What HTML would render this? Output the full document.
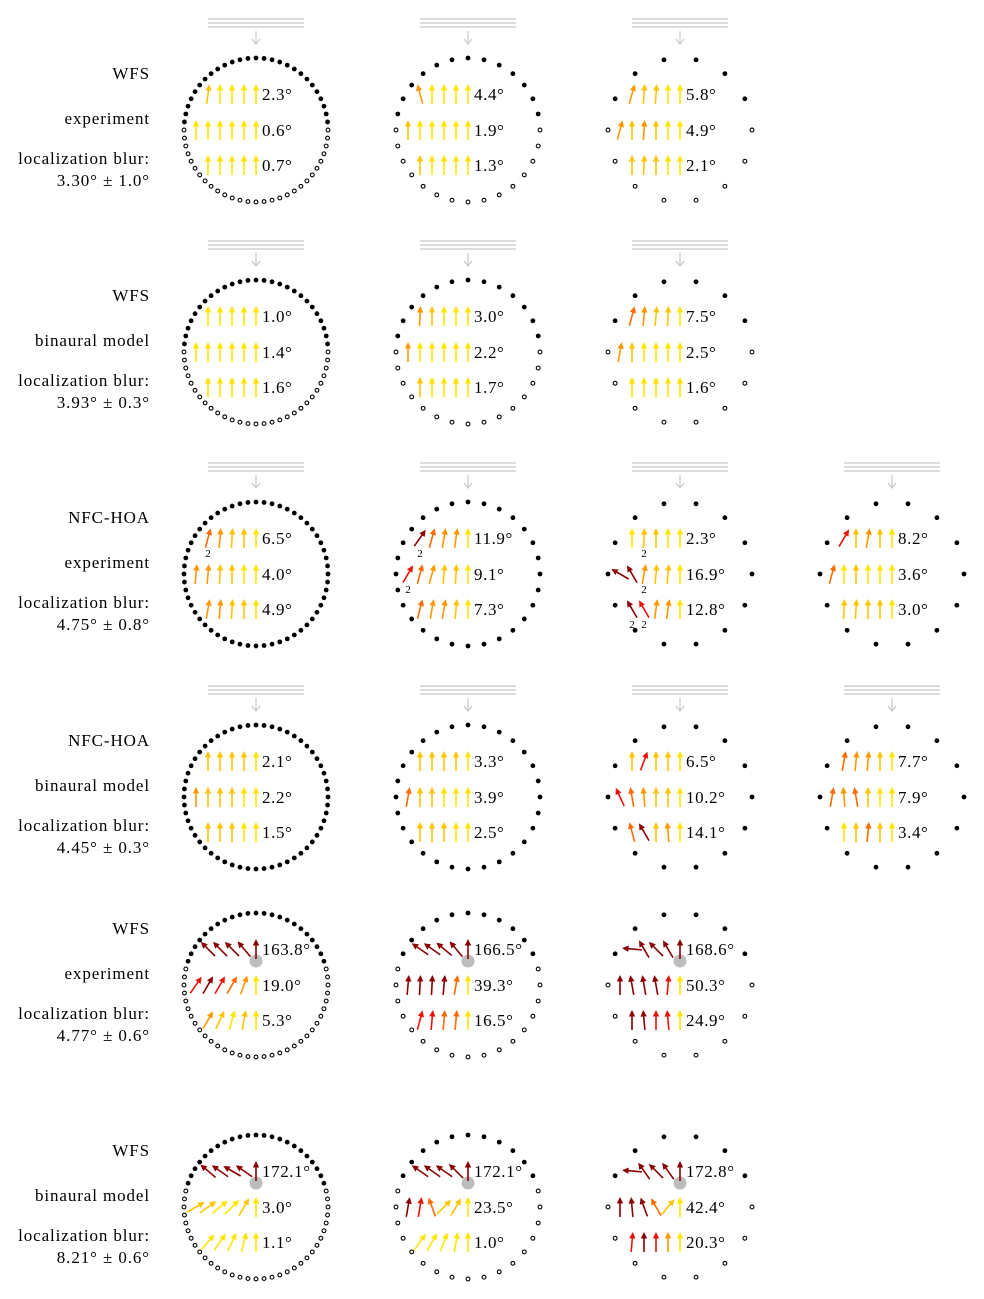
<!DOCTYPE html>
<html><head><meta charset="utf-8"><style>
html,body{margin:0;padding:0;background:#fff;}
svg{display:block;font-family:"Liberation Serif",serif;}
</style></head><body>
<svg id="fig" width="984" height="1299" viewBox="0 0 984 1299" xmlns="http://www.w3.org/2000/svg"></svg>
<script>
// ---- data ----
const rowCenters = [130, 352, 574, 797, 985, 1207];
const colCenters = [256, 468, 680, 892];
const rowMethod = ["WFS","WFS","NFC-HOA","NFC-HOA","WFS","WFS"];
const rowKind = ["experiment","binaural model","experiment","binaural model","experiment","binaural model"];
const rowBlur = ["3.30° ± 1.0°","3.93° ± 0.3°","4.75° ± 0.8°","4.45° ± 0.3°","4.77° ± 0.6°","8.21° ± 0.6°"];
const rowPointSource = [false,false,false,false,true,true];
const rowCols = [3,3,4,4,3,3];
const speakerCounts = [56, 28, 14, 14];
const speakerOffset = [0, 0, 0.5, 0.5];
const colors = ["#ffe600","#ffc400","#ff9800","#ff6a00","#e8140a","#8b0000"];
const errValues = [
 [["2.3°","0.6°","0.7°"],["4.4°","1.9°","1.3°"],["5.8°","4.9°","2.1°"]],
 [["1.0°","1.4°","1.6°"],["3.0°","2.2°","1.7°"],["7.5°","2.5°","1.6°"]],
 [["6.5°","4.0°","4.9°"],["11.9°","9.1°","7.3°"],["2.3°","16.9°","12.8°"],["8.2°","3.6°","3.0°"]],
 [["2.1°","2.2°","1.5°"],["3.3°","3.9°","2.5°"],["6.5°","10.2°","14.1°"],["7.7°","7.9°","3.4°"]],
 [["163.8°","19.0°","5.3°"],["166.5°","39.3°","16.5°"],["168.6°","50.3°","24.9°"]],
 [["172.1°","3.0°","1.1°"],["172.1°","23.5°","1.0°"],["172.8°","42.4°","20.3°"]]
];
const arrowData = [
 [["8:1 0:0 0:0 0:0 0:0","0:0 0:0 0:0 0:0 0:0 0:0","0:0 0:0 0:0 0:0 0:0"],
  ["-15:2 0:0 0:0 0:0 0:0","0:1 0:0 0:0 0:0 0:0 0:0","0:1 0:0 0:0 0:0 0:0"],
  ["15:2 4:1 4:1 0:0 0:0","15:2 0:1 4:2 0:1 0:0 0:0","0:1 3:1 0:1 0:0 0:0"]],
 [["0:0 0:0 0:0 0:0 0:0","0:0 0:0 0:0 0:0 0:0 0:0","0:0 0:0 0:0 0:0 0:0"],
  ["3:2 0:1 0:0 0:0 0:0","0:2 0:0 0:0 0:0 0:0 0:0","0:1 0:0 0:0 0:0 0:0"],
  ["15:3 5:2 5:1 3:1 0:0","10:2 0:1 0:0 0:0 0:0 0:0","0:0 0:0 0:0 0:0 0:0"]],
 [["15:3 5:2 3:1 0:1 0:0","5:2 5:2 3:1 0:1 0:0 0:0","10:2 5:2 3:1 0:1 0:0"],
  ["35:5 15:3 10:2 8:2 0:0","30:4 15:3 15:2 5:1 3:1 0:0","15:3 10:2 10:2 5:1 0:0"],
  ["0:0 3:1 0:1 0:0 0:0","-60:5 -30:5 10:2 5:1 5:1 0:0","-30:5 -30:4 8:2 8:2 0:0"],
  ["30:4 0:1 10:2 0:1 0:0","15:3 0:0 0:1 0:0 0:0 0:0","3:1 3:1 0:1 0:1 0:0"]],
 [["0:1 0:1 0:1 0:1 0:0","0:2 0:1 0:1 0:1 0:0 0:0","0:1 0:1 0:1 0:0 0:0"],
  ["0:1 0:1 0:1 0:1 0:0","10:3 0:1 0:1 0:0 0:0 0:0","0:1 0:1 0:1 0:0 0:0"],
  ["0:1 20:4 0:1 0:1 0:0","-25:4 -10:3 -5:2 0:1 0:1 0:0","-15:3 -30:5 0:1 -5:2 0:0"],
  ["10:3 5:2 5:2 0:1 0:0","10:3 -5:2 -10:3 0:1 0:0 0:0","0:0 0:1 5:3 0:1 0:0"]],
 [["-45:5 -45:5 -45:5 -40:5 0:5","35:4 30:5 30:4 30:3 20:2 0:0","30:2 25:1 15:0 10:1 0:0"],
  ["-55:5 -55:5 -50:5 -40:5 0:5","5:5 3:5 3:5 5:5 10:3 0:0","15:4 5:4 5:3 5:3 0:0"],
  ["-85:5 -30:5 -45:5 -30:5 0:5","0:5 -10:5 -10:5 -10:5 5:4 0:0","0:5 -5:5 0:4 -5:4 0:0"]],
 [["-50:5 -55:5 -60:5 -55:5 0:5","60:1 55:1 50:0 45:0 30:1 0:0","40:0 35:0 25:0 15:0 0:0"],
  ["-55:5 -55:5 -55:5 -45:5 0:5","10:5 10:4 -20:3 45:1 30:1 0:0","35:0 30:0 20:0 10:0 0:0"],
  ["-85:5 -35:5 -45:5 -35:5 0:5","0:5 -5:5 -20:5 -30:3 40:1 0:0","5:4 0:5 0:4 0:2 0:0"]]
];
const countLabels = ["2,0,0,0","2,1,0,0","2,1,1,0","2,2,0,1","2,2,1,2","2,2,2,0","2,2,2,1"];

// ---- drawing ----
const NS = "http://www.w3.org/2000/svg";
const svg = document.getElementById('fig');
function mk(tag, attrs, parent){
  const e = document.createElementNS(NS, tag);
  for (const k in attrs) e.setAttribute(k, attrs[k]);
  (parent||svg).appendChild(e); return e;
}
const R = 72, arrowSpacing = 12, listenerDy = [-36, 0, 35];

rowCenters.forEach((cy, r) => {
  const lg = mk('g', {});
  
  
  const lines = [[rowMethod[r], -51], [rowKind[r], -6], ["localization blur:", 34], [rowBlur[r], 56]];
  lines.forEach(([t, dy]) => {
    const tx = mk('text', {x:150, y:cy+dy, 'text-anchor':'end', 'font-size':17, 'letter-spacing':0.9, fill:'#000'}, lg);
    tx.textContent = t;
  });
  for (let c = 0; c < rowCols[r]; c++) {
    const cx = colCenters[c];
    const g = mk('g', {});
    
    
    let thresh;
    if (rowPointSource[r]) {
      const s = mk('circle', {cx:cx, cy:cy-24, r:6.5, fill:'#bdbdbd'}, g);
      
      
      thresh = cy - 23;
    } else {
      const pw = mk('g', {stroke:'#c8c8c8', 'stroke-width':1.2, fill:'none'}, g);
      
      
      [-111, -107, -103].forEach(dy => mk('line', {x1:cx-48, x2:cx+48, y1:cy+dy, y2:cy+dy}, pw));
      mk('line', {x1:cx, x2:cx, y1:cy-99, y2:cy-86}, pw);
      mk('polyline', {points:`${cx-4},${cy-91} ${cx},${cy-86} ${cx+4},${cy-91}`}, pw);
      thresh = cy - 1;
    }
    const allActive = (r === 2 || r === 3);
    const n = speakerCounts[c];
    for (let i = 0; i < n; i++) {
      const a = (i + speakerOffset[c]) / n * 2 * Math.PI;
      const x = cx + R * Math.sin(a), y = cy - R * Math.cos(a);
      const on = allActive || y < thresh;
      const d = mk('circle', on ? {cx:x, cy:y, r:2.4, fill:'#000'} : {cx:x, cy:y, r:1.9, fill:'#fff', stroke:'#000', 'stroke-width':1.1}, g);
      
      
    }
    for (let l = 0; l < 3; l++) {
      const ly = cy + listenerDy[l];
      const arr = arrowData[r][c][l].split(' ');
      const nA = arr.length;
      arr.forEach((s, k) => {
        const [ang, ci] = s.split(':').map(Number);
        const ax = cx - (nA - 1 - k) * arrowSpacing;
        const col = colors[ci];
        const ag = mk('g', {transform:`translate(${ax},${ly}) rotate(${ang})`}, g);
        
        
        mk('line', {x1:0, y1:10, x2:0, y2:-5, stroke:col, 'stroke-width':1.6}, ag);
        mk('polygon', {points:'0,-10 -3.2,-3.5 3.2,-3.5', fill:col}, ag);
      });
      const t = mk('text', {x:cx+6, y:ly+6, 'font-size':17, 'letter-spacing':0.6, fill:'#000'}, g);
      
      
      t.textContent = errValues[r][c][l];
    }
  }
});
countLabels.forEach(s => {
  const [r, c, l, k] = s.split(',').map(Number);
  const nA = arrowData[r][c][l].split(' ').length;
  const x = colCenters[c] - (nA - 1 - k) * arrowSpacing;
  const t = mk('text', {x:x, y:rowCenters[r] + listenerDy[l] + 19, 'font-size':11, 'text-anchor':'middle', fill:'#000'});
  
  
  t.textContent = '2';
});
</script>
</body></html>
